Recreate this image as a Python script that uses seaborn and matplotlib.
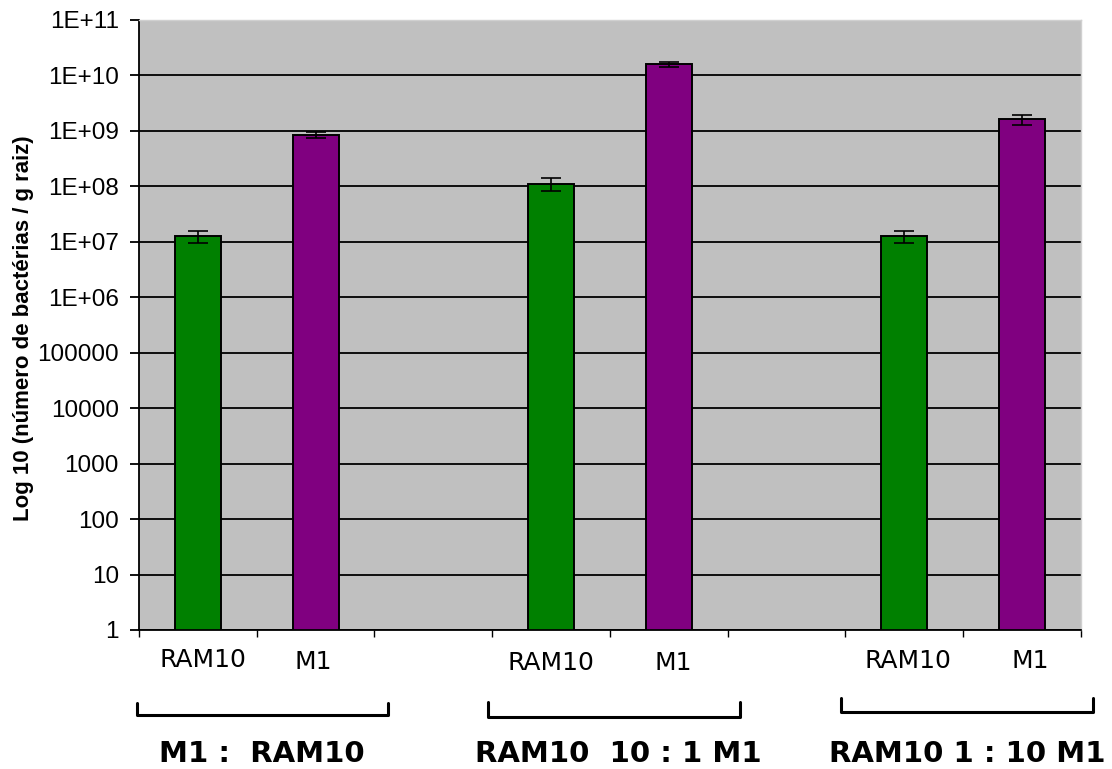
import matplotlib
matplotlib.use("Agg")
import matplotlib.pyplot as plt
import seaborn as sns
import pandas as pd
import numpy as np
from matplotlib.transforms import blended_transform_factory

# ---- data ----
slots = ["RAM10_a", "M1_a", "gap1", "RAM10_b", "M1_b", "gap2", "RAM10_c", "M1_c"]
bar_slots = ["RAM10_a", "M1_a", "RAM10_b", "M1_b", "RAM10_c", "M1_c"]
strains = ["RAM10", "M1", "RAM10", "M1", "RAM10", "M1"]
values = [1.26e7, 8.5e8, 1.12e8, 1.58e10, 1.26e7, 1.62e9]
errors = [3.0e6, 1.1e8, 3.0e7, 1.5e9, 3.0e6, 3.5e8]
group_labels = ["M1 :  RAM10", "RAM10  10 : 1 M1", "RAM10 1 : 10 M1"]
ytick_vals = [1, 10, 100, 1000, 10000, 100000, 1e6, 1e7, 1e8, 1e9, 1e10, 1e11]
ytick_labels = ["1", "10", "100", "1000", "10000", "100000", "1E+06", "1E+07",
                "1E+08", "1E+09", "1E+10", "1E+11"]
palette = {"RAM10": "#008000", "M1": "#800080"}

df = pd.DataFrame({"slot": bar_slots, "strain": strains, "value": values, "err": errors})

sns.set_style("white")
plt.rcParams["font.family"] = ["DejaVu Sans"]
plt.rcParams["text.color"] = "black"
plt.rcParams["axes.labelcolor"] = "black"
plt.rcParams["xtick.color"] = "black"
plt.rcParams["ytick.color"] = "black"

fig = plt.figure(figsize=(11.12, 7.69), dpi=100)
ax = fig.add_axes([0.125, 0.1808, 0.847, 0.7932])
ax.set_facecolor("#C0C0C0")

sns.barplot(data=df, x="slot", y="value", hue="strain", palette=palette,
            order=slots, dodge=False, width=0.39, edgecolor="black",
            linewidth=1.4, legend=False, errorbar=None, saturation=1,
            ax=ax, log_scale=(False, True))

# error bars at bar centres (bars sorted left to right)
bars = [p for p in ax.patches if np.isfinite(p.get_height()) and p.get_height() > 0]
bars.sort(key=lambda p: p.get_x())
xs = [p.get_x() + p.get_width() / 2 for p in bars]
ax.errorbar(xs, values, yerr=errors, fmt="none", ecolor="black",
            elinewidth=1.2, capsize=7, capthick=1.2, zorder=5)

ax.set_yscale("log")
ax.set_ylim(1, 1e11)
ax.set_xlim(-0.5, len(slots) - 0.5)
ax.set_yticks(ytick_vals)
ax.set_yticklabels(ytick_labels, fontfamily="Liberation Sans", fontsize=17.5)
ax.yaxis.set_minor_locator(matplotlib.ticker.NullLocator())
ax.yaxis.grid(True, color="black", linewidth=1.3)
ax.set_axisbelow(True)

ax.set_xticks(np.arange(-0.5, len(slots), 1.0))
ax.set_xticklabels([])
ax.tick_params(axis="x", direction="out", length=5, width=1, color="black", bottom=True)
ax.tick_params(axis="y", direction="out", length=6.5, width=1.3, color="black", left=True, pad=8)
ax.set_xlabel("")
ax.set_ylabel("Log 10 (número de bactérias / g raiz)", fontfamily="Liberation Sans",
              fontweight="bold", fontsize=16)
ax.yaxis.label.set_va("center")
ax.yaxis.set_label_coords((23 - 139) / 942, (630 - 328) / 610)

for s in ["top", "right"]:
    ax.spines[s].set_color("#D0D0D0")
    ax.spines[s].set_linewidth(1)
for s in ["left", "bottom"]:
    ax.spines[s].set_color("black")
    ax.spines[s].set_linewidth(1.3)

# category labels beneath
tr = blended_transform_factory(ax.transData, fig.transFigure)
label_x = [0.04, 0.98, 3.0, 4.04, 6.03, 7.07]
label_ypx = [660, 662, 663.5, 663, 661.5, 661]
for x, ypx, lab in zip(label_x, label_ypx, strains):
    ax.text(x, 1 - ypx / 769, lab, transform=tr, ha="center", va="center", fontsize=18,
            fontfamily="DejaVu Sans", clip_on=False)

# brackets
ftr = fig.transFigure
brackets = [(137, 388, 715, 703), (488, 740, 717, 702), (841, 1093, 712, 698)]
for (x0, x1, yb, yt) in brackets:
    fx0, fx1 = x0 / 1112, x1 / 1112
    fy = 1 - yb / 769
    fyt = 1 - yt / 769
    fig.add_artist(plt.Line2D([fx0, fx0, fx1, fx1], [fyt, fy, fy, fyt],
                              transform=ftr, color="black", linewidth=2.2))

group_cx = [262, 618, 967]
for cx, lab in zip(group_cx, group_labels):
    fig.text(cx / 1112, 1 - 754 / 769, lab, ha="center", va="center",
             fontsize=21, fontweight="bold", fontfamily="DejaVu Sans")

fig.savefig("out.png", dpi=100)
